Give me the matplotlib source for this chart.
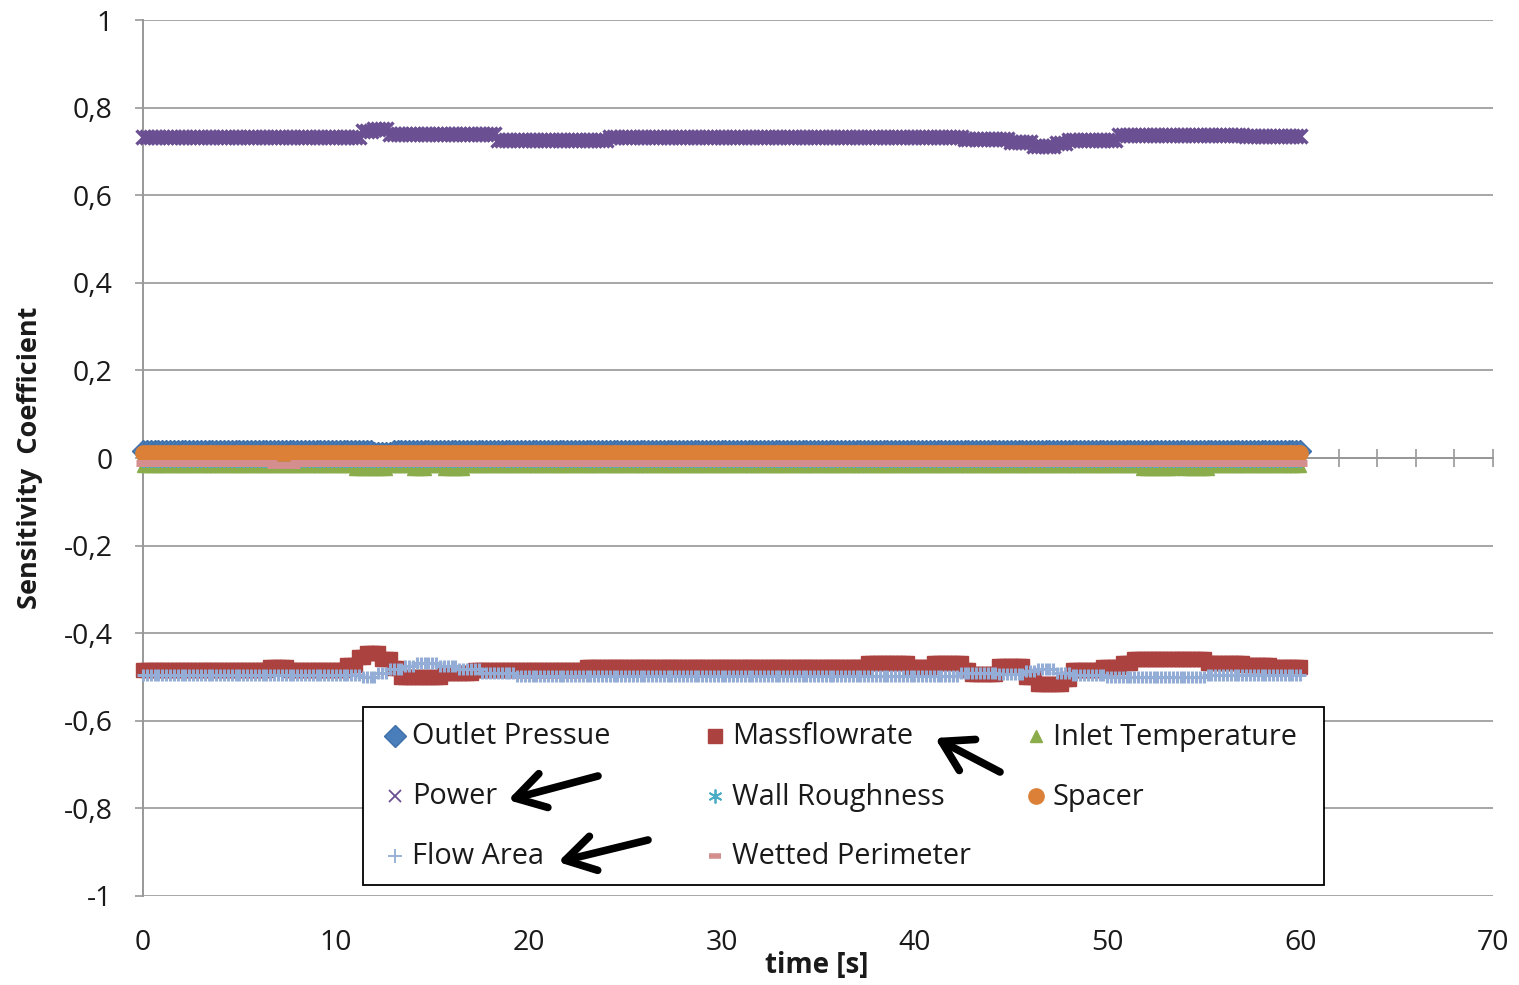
import numpy as np
import matplotlib
matplotlib.use("Agg")
import matplotlib.pyplot as plt
from matplotlib.lines import Line2D
from matplotlib.patches import Rectangle, FancyArrowPatch

plt.rcParams["font.family"] = ["Open Sans", "DejaVu Sans"]

# ---------------------------------------------------------------------------
# Data: sensitivity coefficients over the transient (piecewise-constant levels)
# ---------------------------------------------------------------------------
time = np.round(np.arange(0.0, 60.0001, 0.2), 1)

power_levels = [0.732, 0.746, 0.752, 0.740, 0.727, 0.733, 0.729, 0.721, 0.712, 0.719, 0.725, 0.738, 0.736]
power_ends = [11.2, 11.8, 12.6, 18.2, 24.0, 42.5, 44.8, 46.0, 47.2, 47.8, 50.4, 57.0, 60.0]

mass_levels = [-0.484, -0.477, -0.484, -0.472, -0.455, -0.446, -0.458, -0.480, -0.500, -0.491,
               -0.484, -0.478, -0.468, -0.477, -0.468, -0.484, -0.494, -0.475, -0.500, -0.516,
               -0.505, -0.484, -0.477, -0.468, -0.460, -0.468, -0.472, -0.477]
mass_ends = [6.4, 7.5, 10.4, 11.0, 11.5, 12.3, 12.8, 13.2, 15.4, 17.0,
             22.8, 37.5, 39.6, 40.8, 42.5, 42.8, 44.2, 45.7, 46.2, 47.6,
             48.1, 49.6, 50.6, 51.3, 55.0, 57.0, 58.5, 60.0]

area_levels = [-0.495, -0.500, -0.492, -0.482, -0.474, -0.468, -0.474, -0.482, -0.490, -0.497,
               -0.490, -0.493, -0.487, -0.482, -0.490, -0.495, -0.500, -0.496]
area_ends = [11.2, 12.0, 12.6, 13.4, 14.0, 15.2, 16.2, 17.4, 19.2, 42.3,
             44.2, 45.6, 46.2, 47.2, 48.0, 49.8, 55.0, 60.0]

outlet_levels = [0.015, 0.012, 0.015]
outlet_ends = [11.8, 12.8, 60.0]

inlet_levels = [-0.019, -0.025, -0.019, -0.024, -0.019, -0.025, -0.019, -0.025, -0.019, -0.025, -0.019]
inlet_ends = [10.9, 12.7, 13.8, 14.6, 15.5, 16.6, 51.7, 53.4, 53.9, 55.2, 60.0]

rough_levels = [-0.007]
rough_ends = [60.0]

spacer_levels = [0.012]
spacer_ends = [60.0]

wetted_levels = [-0.011, -0.015, -0.011]
wetted_ends = [6.7, 7.8, 60.0]


def step_series(levels, ends):
    idx = np.searchsorted(np.asarray(ends), time, side="left")
    idx = np.minimum(idx, len(levels) - 1)
    return np.asarray(levels)[idx]


series_names = ["Outlet Pressue", "Massflowrate", "Inlet Temperature", "Power",
                "Wall Roughness", "Spacer", "Flow Area", "Wetted Perimeter"]
series_values = [
    step_series(outlet_levels, outlet_ends),
    step_series(mass_levels, mass_ends),
    step_series(inlet_levels, inlet_ends),
    step_series(power_levels, power_ends),
    step_series(rough_levels, rough_ends),
    step_series(spacer_levels, spacer_ends),
    step_series(area_levels, area_ends),
    step_series(wetted_levels, wetted_ends),
]

x_ticks = list(range(0, 71, 10))
y_ticks = [-1.0, -0.8, -0.6, -0.4, -0.2, 0.0, 0.2, 0.4, 0.6, 0.8, 1.0]
y_labels = ["-1", "-0,8", "-0,6", "-0,4", "-0,2", "0", "0,2", "0,4", "0,6", "0,8", "1"]

# marker styles for each series: (marker, size, face, edge, edge width)
styles = {
    "Outlet Pressue": dict(marker="D", ms=11, mfc="#4A7EBB", mec="#3F6FA8", mew=1.0),
    "Massflowrate": dict(marker="s", ms=10.5, mfc="#AB423F", mec="#AB423F", mew=1.0),
    "Inlet Temperature": dict(marker="^", ms=8, mfc="#8AAC4B", mec="#8AAC4B", mew=1.0),
    "Power": dict(marker="x", ms=10, mfc="none", mec="#6A5092", mew=2.4),
    "Wall Roughness": dict(marker=(6, 2, 0), ms=9, mfc="none", mec="#4BACC6", mew=1.5),
    "Spacer": dict(marker="o", ms=11, mfc="#DB8036", mec="#DB8036", mew=1.0),
    "Flow Area": dict(marker="+", ms=8, mfc="none", mec="#93ADD6", mew=2.2),
    "Wetted Perimeter": dict(marker="_", ms=10, mfc="#D48E8D", mec="#D48E8D", mew=5),
}

W, H = 1519, 985
fig = plt.figure(figsize=(W / 100, H / 100), dpi=100)


def fx(px):
    return px / W


def fy(py):
    return 1 - py / H


ax = fig.add_axes([fx(143), fy(896), (1493 - 143) / W, (896 - 20) / H])
ax.set_xlim(0, 70)
ax.set_ylim(-1, 1)
ax.set_axisbelow(True)

grey = "#989898"
text_col = "#1a1a1a"
ax.yaxis.grid(True, color="#A6A6A6", lw=1.4)
ax.set_yticks(y_ticks)
ax.set_yticklabels(y_labels)
ax.tick_params(axis="y", direction="out", length=6, width=1.2, color=grey,
               labelsize=20.5, pad=16, labelcolor=text_col)

for side in ("top", "right"):
    ax.spines[side].set_visible(False)
ax.spines["left"].set_color(grey)
ax.spines["left"].set_linewidth(1.4)
ax.spines["bottom"].set_position(("data", 0))
ax.spines["bottom"].set_color(grey)
ax.spines["bottom"].set_linewidth(1.4)
ax.spines["bottom"].set_zorder(1)
ax.spines["left"].set_zorder(1)

ax.set_xticks(np.arange(0, 71, 2))
ax.tick_params(axis="x", direction="inout", length=13, width=1.2, color=grey,
               labelbottom=False)

sec = ax.secondary_xaxis(0.0)
sec.set_xticks(x_ticks)
sec.tick_params(length=0, pad=24, labelsize=20.5, labelcolor=text_col)
sec.spines["bottom"].set_visible(False)

for name, vals in zip(series_names, series_values):
    ax.plot(time, vals, linestyle="none", clip_on=False, zorder=3, **styles[name])

fig.text(fx(30), fy(458), "Sensitivity  Coefficient", rotation=90, ha="center",
         va="center", fontsize=19.5, fontweight="bold", color=text_col)
fig.text(fx(817), fy(966), "time [s]", ha="center", va="center", fontsize=20,
         fontweight="bold", color=text_col)

# legend box, laid out row by row in three columns
fig.add_artist(Rectangle((fx(363), fy(885)), (1324 - 363) / W, (885 - 707) / H,
                         transform=fig.transFigure, facecolor="white",
                         edgecolor="black", lw=1.3, zorder=5))
col_x = [395, 715, 1036]
row_y = [736, 796, 856]
legend_ms = {"Outlet Pressue": 11, "Massflowrate": 10, "Inlet Temperature": 8,
             "Power": 9, "Wall Roughness": 10, "Spacer": 11, "Flow Area": 10,
             "Wetted Perimeter": 9}
for i, name in enumerate(series_names):
    r, c = divmod(i, 3)
    st = dict(styles[name])
    st["ms"] = legend_ms[name]
    if name in ("Power", "Flow Area", "Wall Roughness"):
        st["mew"] = 1.3
    if name == "Wetted Perimeter":
        st["mew"] = 4
    fig.add_artist(Line2D([fx(col_x[c])], [fy(row_y[r])], transform=fig.transFigure,
                          linestyle="none", zorder=6, **st))
    fig.text(fx(col_x[c] + 17), fy(row_y[r] + 1), name, ha="left", va="center",
             fontsize=20.8, color=text_col, zorder=6)

# black pointer arrows drawn over the legend
arrows = [((598, 776), (508, 800)), ((648, 840), (558, 862)), ((1000, 772), (935, 738))]
for (x0, y0), (x1, y1) in arrows:
    fig.add_artist(FancyArrowPatch(
        (fx(x0), fy(y0)), (fx(x1), fy(y1)), transform=fig.transFigure,
        arrowstyle="->,head_length=0.75,head_width=0.45", mutation_scale=28,
        lw=5.5, color="black", zorder=7, shrinkA=0, shrinkB=0, capstyle="round",
        joinstyle="round"))

fig.savefig("out.png", dpi=100, facecolor="white")
